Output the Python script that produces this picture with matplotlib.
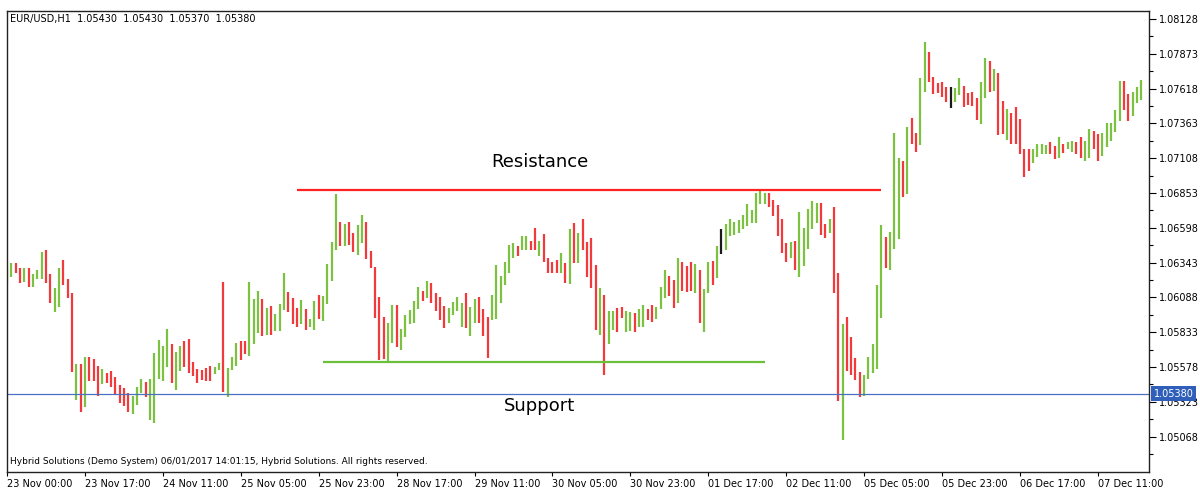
import numpy as np
import matplotlib.pyplot as plt
from matplotlib.transforms import blended_transform_factory

# EUR/USD H1 bars (high / low / direction)
highs = [
    1.06295, 1.06340, 1.06340, 1.06303, 1.06303, 1.06303, 1.06259, 1.06288, 1.06420, 1.06435,
    1.06259, 1.06156, 1.06303, 1.06362, 1.06222, 1.06120, 1.05600, 1.05600, 1.05651, 1.05651,
    1.05636, 1.05585, 1.05563, 1.05534, 1.05549, 1.05505, 1.05445, 1.05423, 1.05387, 1.05365,
    1.05431, 1.05490, 1.05467, 1.05490, 1.05680, 1.05775, 1.05731, 1.05856, 1.05746, 1.05687,
    1.05731, 1.05768, 1.05783, 1.05614, 1.05563, 1.05556, 1.05570, 1.05585, 1.05578, 1.05607,
    1.06200, 1.05570, 1.05651, 1.05753, 1.05768, 1.05768, 1.06200, 1.06076, 1.06135, 1.06076,
    1.06011, 1.06025, 1.05966, 1.06040, 1.06266, 1.06127, 1.06083, 1.06011, 1.06069, 1.06003,
    1.05929, 1.06062, 1.06105, 1.06098, 1.06333, 1.06493, 1.06846, 1.06640, 1.06626, 1.06640,
    1.06560, 1.06618, 1.06691, 1.06640, 1.06428, 1.06311, 1.06091, 1.05944, 1.05900, 1.06033,
    1.06033, 1.05856, 1.05958, 1.05995, 1.06062, 1.06164, 1.06135, 1.06208, 1.06193, 1.06120,
    1.06091, 1.06025, 1.06011, 1.06054, 1.06091, 1.06047, 1.06120, 1.06018, 1.06076, 1.06091,
    1.06003, 1.05944, 1.06105, 1.06325, 1.06244, 1.06347, 1.06471, 1.06486, 1.06464, 1.06538,
    1.06538, 1.06501, 1.06597, 1.06501, 1.06553, 1.06376, 1.06347, 1.06362, 1.06413, 1.06340,
    1.06589, 1.06633, 1.06560, 1.06662, 1.06493, 1.06523, 1.06325, 1.06156, 1.06105, 1.05988,
    1.05988, 1.06011, 1.06018, 1.05988, 1.05980, 1.05973, 1.06003, 1.06033, 1.06003, 1.06033,
    1.06018, 1.06164, 1.06288, 1.06244, 1.06215, 1.06376, 1.06347, 1.06318, 1.06347, 1.06333,
    1.06288, 1.06149, 1.06347, 1.06355, 1.06464, 1.06589, 1.06626, 1.06662, 1.06640, 1.06655,
    1.06691, 1.06772, 1.06728, 1.06853, 1.06882, 1.06853, 1.06853, 1.06801, 1.06764, 1.06662,
    1.06486, 1.06493, 1.06501, 1.06713, 1.06597, 1.06735, 1.06794, 1.06779, 1.06779, 1.06626,
    1.06662, 1.06750, 1.06266, 1.05893, 1.05944, 1.05797, 1.05643, 1.05541, 1.05519, 1.05651,
    1.05746, 1.06178, 1.06618, 1.06531, 1.06567, 1.07292, 1.07109, 1.07088, 1.07336, 1.07403,
    1.07292, 1.07695, 1.07959, 1.07886, 1.07703, 1.07659, 1.07666, 1.07629, 1.07629, 1.07622,
    1.07695, 1.07636, 1.07585, 1.07593, 1.07549, 1.07666, 1.07842, 1.07820, 1.07761, 1.07732,
    1.07527, 1.07468, 1.07439, 1.07483, 1.07395, 1.07175, 1.07175, 1.07175, 1.07212, 1.07212,
    1.07204, 1.07226, 1.07196, 1.07263, 1.07212, 1.07226, 1.07233, 1.07226, 1.07263, 1.07233,
    1.07321, 1.07307, 1.07285, 1.07292, 1.07366, 1.07366, 1.07461, 1.07673, 1.07673, 1.07578,
    1.07593, 1.07629, 1.07681,
]
lows = [
    1.06193, 1.06237, 1.06266, 1.06193, 1.06200, 1.06164, 1.06164, 1.06222, 1.06222, 1.06193,
    1.06047, 1.05980, 1.06018, 1.06178, 1.06083, 1.05541, 1.05336, 1.05248, 1.05285, 1.05475,
    1.05475, 1.05365, 1.05453, 1.05460, 1.05431, 1.05372, 1.05314, 1.05292, 1.05248, 1.05234,
    1.05299, 1.05387, 1.05358, 1.05189, 1.05167, 1.05490, 1.05475, 1.05578, 1.05460, 1.05409,
    1.05549, 1.05578, 1.05534, 1.05512, 1.05460, 1.05482, 1.05475, 1.05475, 1.05527, 1.05556,
    1.05394, 1.05358, 1.05556, 1.05585, 1.05629, 1.05673, 1.05658, 1.05746, 1.05827, 1.05805,
    1.05812, 1.05812, 1.05841, 1.05841, 1.05995, 1.05980, 1.05893, 1.05871, 1.05893, 1.05849,
    1.05871, 1.05849, 1.05929, 1.05915, 1.06040, 1.06208, 1.06435, 1.06464, 1.06464, 1.06471,
    1.06420, 1.06398, 1.06486, 1.06369, 1.06303, 1.05936, 1.05629, 1.05636, 1.05622, 1.05753,
    1.05724, 1.05702, 1.05797, 1.05893, 1.05900, 1.06003, 1.06062, 1.06083, 1.06047, 1.05988,
    1.05922, 1.05863, 1.05900, 1.05958, 1.05988, 1.05871, 1.05863, 1.05805, 1.05900, 1.05900,
    1.05805, 1.05643, 1.05922, 1.05929, 1.06047, 1.06178, 1.06266, 1.06376, 1.06391, 1.06435,
    1.06435, 1.06435, 1.06435, 1.06391, 1.06347, 1.06266, 1.06266, 1.06266, 1.06266, 1.06193,
    1.06186, 1.06340, 1.06340, 1.06435, 1.06237, 1.06156, 1.05849, 1.05812, 1.05519, 1.05746,
    1.05849, 1.05834, 1.05936, 1.05834, 1.05841, 1.05834, 1.05871, 1.05871, 1.05922, 1.05907,
    1.05929, 1.06003, 1.06083, 1.06098, 1.06011, 1.06047, 1.06135, 1.06127, 1.06135, 1.06120,
    1.05900, 1.05834, 1.06120, 1.06178, 1.06229, 1.06406, 1.06435, 1.06538, 1.06545, 1.06560,
    1.06589, 1.06611, 1.06633, 1.06633, 1.06772, 1.06772, 1.06750, 1.06684, 1.06538, 1.06413,
    1.06347, 1.06376, 1.06288, 1.06237, 1.06318, 1.06442, 1.06589, 1.06633, 1.06545, 1.06523,
    1.06560, 1.06120, 1.05329, 1.05043, 1.05549, 1.05519, 1.05482, 1.05358, 1.05365, 1.05490,
    1.05534, 1.05563, 1.05936, 1.06303, 1.06288, 1.06442, 1.06516, 1.06823, 1.06846, 1.07212,
    1.07153, 1.07204, 1.07593, 1.07666, 1.07578, 1.07585, 1.07556, 1.07519, 1.07475, 1.07519,
    1.07571, 1.07483, 1.07497, 1.07490, 1.07388, 1.07358, 1.07549, 1.07593, 1.07600, 1.07278,
    1.07285, 1.07241, 1.07212, 1.07212, 1.07139, 1.06970, 1.07014, 1.07073, 1.07117, 1.07139,
    1.07139, 1.07139, 1.07102, 1.07109, 1.07146, 1.07175, 1.07153, 1.07139, 1.07109, 1.07088,
    1.07109, 1.07175, 1.07088, 1.07124, 1.07190, 1.07233, 1.07299, 1.07381, 1.07461, 1.07381,
    1.07417, 1.07512, 1.07534,
]
# G = up bar, R = down bar, K = doji (10 bars per chunk)
direction = "".join([
    "GGRRGRGGGR", "RGGRRRGRGR", "RRGRRRRRRG", "GGRGGGGGRG", "GRRRRRRRGG",
    "RGGGRRGGGR", "GRGGGRRRGR", "GGRGGGGRGR", "RGGRRRRRGG", "RGGGGGRGRR",
    "RRGGGGRGGR", "RRGGGGGGRG", "GRRGRRRRGR", "GRGRRRRGRG", "GRRGGRGGRR",
    "GGGRRGRRRG", "RGGRGKGGGG", "GGGGGGRRRR", "RGRGGGGGRR", "GRRGRRRRGG",
    "GGGRGGGRGR", "RGGRRRRRKG", "GRRRRGGRGR", "RGRRRRRGGG", "GRRGRGGRRG",
    "GRRGGGGGRR", "GGG",
])

x_labels = ["23 Nov 00:00", "23 Nov 17:00", "24 Nov 11:00", "25 Nov 05:00",
            "25 Nov 23:00", "28 Nov 17:00", "29 Nov 11:00", "30 Nov 05:00",
            "30 Nov 23:00", "01 Dec 17:00", "02 Dec 11:00", "05 Dec 05:00",
            "05 Dec 23:00", "06 Dec 17:00", "07 Dec 11:00"]
y_labels = [1.05068, 1.05323, 1.05578, 1.05833, 1.06088, 1.06343, 1.06598,
            1.06853, 1.07108, 1.07363, 1.07618, 1.07873, 1.08128]

resistance = 1.06875
resistance_span = (67, 202)
support = 1.05614
support_span = (73, 175)
last_price = 1.05380

col = {"G": "#7cc142", "R": "#f2393b", "K": "#1a1a1a"}

n = min(len(highs), len(lows), len(direction))
xs = np.arange(n)

fig = plt.figure(figsize=(12, 4.91), dpi=100)
ax = fig.add_axes([7 / 1200, 1 - 472 / 491, 1142 / 1200, 461 / 491])

ax.vlines(xs, lows[:n], highs[:n], colors=[col[d] for d in direction[:n]], linewidth=1.6)

ax.hlines(resistance, *resistance_span, color="#ff2222", linewidth=1.6)
ax.hlines(support, *support_span, color="#6cbf3a", linewidth=1.6)
ax.axhline(last_price, color="#4a72c0", linewidth=0.9)

ax.text(123, resistance + 0.00205, "Resistance", ha="center", va="center", fontsize=13)
ax.text(123, last_price - 0.00090, "Support", ha="center", va="center", fontsize=13)

ax.set_xlim(0.07, 263.8)
ax.set_ylim(1.04808, 1.08186)

# x axis
ax.set_xticks([18 * k for k in range(len(x_labels))])
ax.set_xticklabels(x_labels, ha="left", fontsize=7)
ax.tick_params(axis="x", length=3, width=0.8, pad=2)

# y axis on the right with minor ticks in between
ax.yaxis.tick_right()
ax.set_yticks(y_labels)
ax.set_yticklabels([f"{v:.5f}" for v in y_labels], fontsize=7)
ax.set_yticks([v + 0.001275 for v in y_labels[:-1]] + [y_labels[0] - 0.001275], minor=True)
ax.tick_params(axis="y", which="major", length=5, width=0.8, pad=2)
ax.tick_params(axis="y", which="minor", length=3, width=0.8)

for s in ax.spines.values():
    s.set_color("#222222")
    s.set_linewidth(1.0)

# current price box
tr = blended_transform_factory(ax.transAxes, ax.transData)
ax.text(1.004, last_price, "1.05380", transform=tr, ha="left", va="center", fontsize=7,
        color="white", bbox=dict(facecolor="#2f5fb8", edgecolor="none", pad=1.8), zorder=5)

fig.text(10 / 1200, 1 - 19 / 491, "EUR/USD,H1  1.05430  1.05430  1.05370  1.05380",
         fontsize=7, va="center", ha="left")
fig.text(10 / 1200, 1 - 461 / 491,
         "Hybrid Solutions (Demo System) 06/01/2017 14:01:15, Hybrid Solutions. All rights reserved.",
         fontsize=6.5, va="center", ha="left")

fig.savefig("out.png", dpi=100, facecolor="white")
